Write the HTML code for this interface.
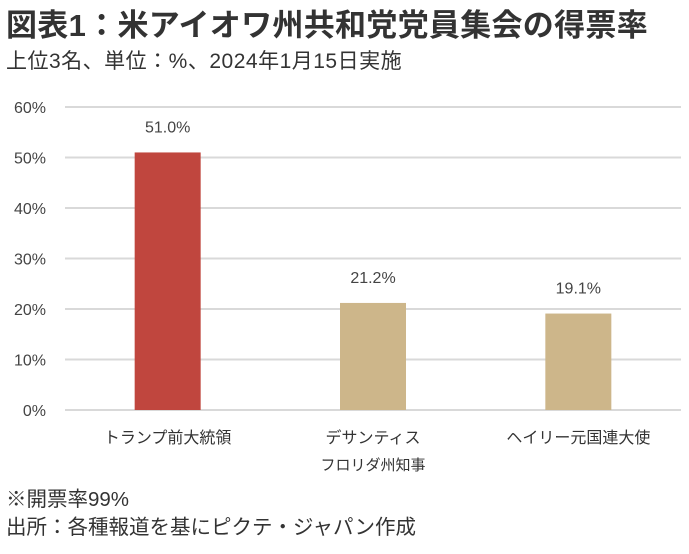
<!DOCTYPE html>
<html><head><meta charset="utf-8"><style>
body{margin:0;width:689px;height:554px;background:#fff;overflow:hidden;font-family:"Liberation Sans","Noto Sans CJK JP",sans-serif;color:#333}
.t{position:absolute;white-space:nowrap}
</style></head><body>
<div class="t" style="left:6px;top:0px;font-size:31px;font-weight:bold;color:#333;letter-spacing:0.3px">図表1：米アイオワ州共和党党員集会の得票率</div>
<div class="t" style="left:6px;top:45px;font-size:21px;color:#333;letter-spacing:0.5px">上位3名、単位：%、2024年1月15日実施</div>
<svg id="c" width="689" height="554" style="position:absolute;left:0;top:0" font-family="Liberation Sans, Noto Sans CJK JP, sans-serif"></svg>
<div class="t" style="left:6px;top:482px;font-size:20.5px">※開票率99%</div>
<div class="t" style="left:6px;top:510px;font-size:20.5px">出所：各種報道を基にピクテ・ジャパン作成</div>
<script>
const categories=[["トランプ前大統領"],["デサンティス","フロリダ州知事"],["ヘイリー元国連大使"]];
const values=[51.0,21.2,19.1];
const colors=["#c0463e","#cdb68a","#cdb68a"];
const ticks=[0,10,20,30,40,50,60];
const svg=document.getElementById('c');const NS='http://www.w3.org/2000/svg';
const x0=65,x1=681,y0=410,y1=107,ymax=60;
const y=v=>y0-(v/ymax)*(y0-y1);
const band=(x1-x0)/categories.length;
const xc=i=>x0+band*(i+0.5);
function mk(t,a){const e=document.createElementNS(NS,t);for(const k in a)e.setAttribute(k,a[k]);svg.appendChild(e);return e;}
ticks.forEach(t=>{
 const g=mk('line',{x1:x0,x2:x1,y1:y(t),y2:y(t),stroke:'#d9d9d9','stroke-width':2});
 
 
 const l=mk('text',{x:46,y:y(t)+6,'text-anchor':'end','font-size':16,fill:'#444'});l.textContent=t+'%';
 
 
});
values.forEach((v,i)=>{
 const w=66;
 const r=mk('rect',{x:xc(i)-w/2,y:y(v),width:w,height:y0-y(v),fill:colors[i]});
 
 
 const t=mk('text',{x:xc(i),y:y(v)-20,'text-anchor':'middle','font-size':16,fill:'#444'});t.textContent=v.toFixed(1)+'%';
 
 
 categories[i].forEach((s,j)=>{
  const c=mk('text',{x:xc(i),y:443+j*27,'text-anchor':'middle','font-size':j?15:16,fill:'#333'});c.textContent=s;
  
  
 });
});
</script>
</body></html>
